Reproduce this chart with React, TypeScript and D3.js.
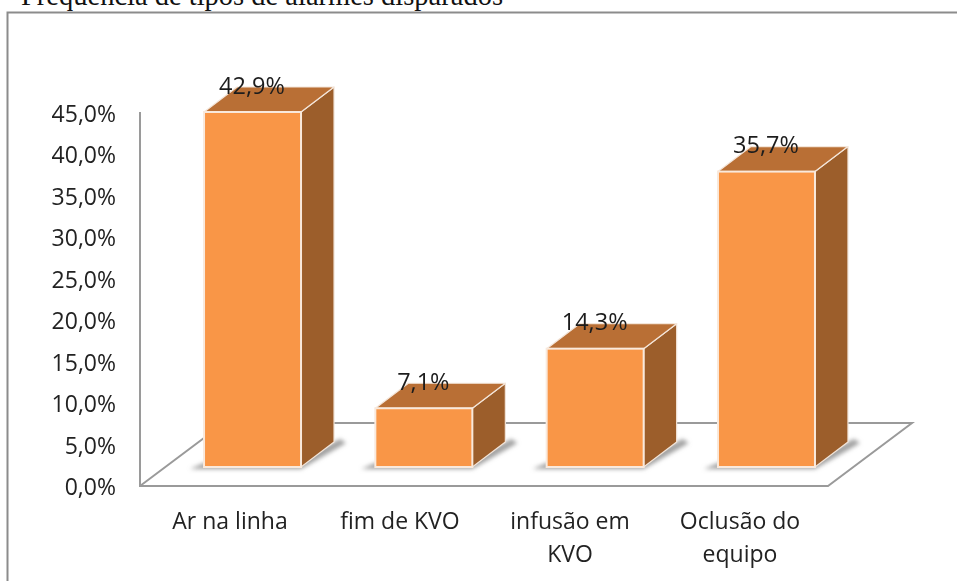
import React from "react";
import * as d3 from "d3";

const categories = ["Ar na linha", "fim de KVO", "infusão em KVO", "Oclusão do equipo"];
const categoryLines = [["Ar na linha"], ["fim de KVO"], ["infusão em", "KVO"], ["Oclusão do", "equipo"]];
const values = [42.9, 7.1, 14.3, 35.7];
const valueLabels = ["42,9%", "7,1%", "14,3%", "35,7%"];
const ticks = [0, 5, 10, 15, 20, 25, 30, 35, 40, 45];

const W = 957, H = 581;
const FONT = "'Open Sans', 'Noto Sans', sans-serif";

const x = d3.scaleBand<string>().domain(categories).range([161.2, 857.8]).paddingInner(0.4338).paddingOuter(0.25);
const xLabel = d3.scalePoint<string>().domain(categories).range([230, 740]);
const yBar = d3.scaleLinear().domain([0, 42.9]).range([467, 112]);
const yTick = d3.scaleLinear().domain([0, 45]).range([486, 113]);
const dx = 33, dy = -25;

const line = d3.line<[number, number]>();
const poly = (p: [number, number][]) => line(p) + "Z";

export default function App() {
  return (
    <svg width={W} height={H} style={{ position: "fixed", left: 0, top: 0, background: "#fff" }}>
      <defs>
        <filter id="soft" x="-20%" y="-50%" width="140%" height="200%"><feGaussianBlur stdDeviation="2.2" /></filter>
        <filter id="txt"><feGaussianBlur stdDeviation="0.35" /></filter>
      </defs>
      <text x={21} y={5} fontFamily="'Liberation Serif', serif" fontSize={28.5} fill="#111">Frequência de tipos de alarmes disparados</text>
      <path d={`M7.5,581V12.5H${W}`} fill="none" stroke="#8c8c8c" strokeWidth={2} />

      <g fill="none" stroke="#9a9a9a" strokeWidth={2}>
        <path d={line([[140, 112], [140, yTick(0)], [828, yTick(0)], [912, 423], [224, 423], [140, yTick(0)]]) ?? ""} />
      </g>

      <g filter="url(#txt)" fontFamily={FONT} fontSize={23} fill="#222">
        {ticks.map(t => (
          <text key={t} x={116} y={yTick(t)} textAnchor="end" dominantBaseline="central">{t.toFixed(1).replace(".", ",")}%</text>
        ))}
      </g>

      {categories.map((c, i) => {
        const l = x(c) as number, r = l + x.bandwidth();
        const top = yBar(values[i]), base = yBar(0);
        return (
          <g key={c}>
            <path d={poly([[l - 14, base + 2], [r, base + 2], [r + dx + 12, base + dy + 1], [r + dx + 6, base + dy - 3], [r, base - 8], [l, base - 4]])} fill="#a0a0a0" filter="url(#soft)" />
            <path d={poly([[r, top], [r + dx, top + dy], [r + dx, base + dy], [r, base]])} fill="#9c5e2b" stroke="#f2e4d8" strokeWidth={1.2} strokeLinejoin="round" />
            <path d={poly([[l, top], [l + dx, top + dy], [r + dx, top + dy], [r, top]])} fill="#b96f35" stroke="#f4e6da" strokeWidth={1.2} strokeLinejoin="round" />
            <rect x={l} y={top} width={x.bandwidth()} height={base - top} fill="#f99647" stroke="#f9e9dc" strokeWidth={2} />
            <text filter="url(#txt)" x={l + 48} y={top - 27.5} textAnchor="middle" dominantBaseline="central" fontFamily={FONT} fontSize={23.5} fill="#1c1c1c">{valueLabels[i]}</text>
          </g>
        );
      })}

      <g filter="url(#txt)" fontFamily={FONT} fontSize={23} fill="#222" textAnchor="middle">
        {categories.map((c, i) => categoryLines[i].map((t, j) => (
          <text key={t} x={xLabel(c)} y={520 + j * 33} dominantBaseline="central">{t}</text>
        )))}
      </g>
    </svg>
  );
}
